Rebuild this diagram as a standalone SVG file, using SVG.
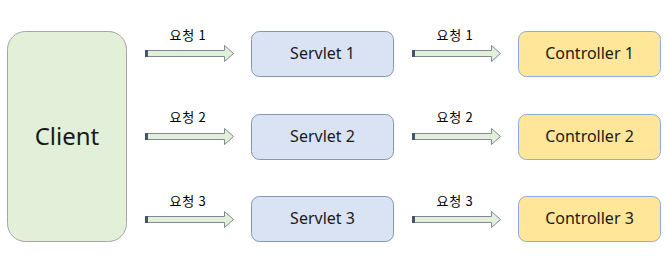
<svg xmlns="http://www.w3.org/2000/svg" width="666" height="272" viewBox="0 0 666 272">
<style>
.client{fill:#e2efd9;stroke:#a6a6a6;stroke-width:1}
.servlet{fill:#dae3f3;stroke:#8497b0;stroke-width:1}
.ctrl{fill:#ffe699;stroke:#8faadc;stroke-width:1}
.t{font-family:"Noto Sans","Noto Sans CJK KR",sans-serif;fill:#1a1a1a;text-anchor:middle}
.lbl{font-family:"Noto Sans CJK KR","Noto Sans",sans-serif;font-size:13px;letter-spacing:0.8px;fill:#000;text-anchor:middle}
.arr{fill:#e2efd9;stroke:#7f8a96;stroke-width:1}
.cap{fill:#44546a}
</style>
<defs>
<g id="arrow">
<path class="arr" d="M0,-3 H79 V-8 L88,0 L79,8 V3 H0 Z"/>
<rect class="cap" x="-0.5" y="-3.5" width="3" height="7"/>
</g>
</defs>
<g id="client">
<rect class="client" x="7.5" y="31.5" width="119" height="210" rx="18"/>
<text class="t" x="67" y="145" font-size="24">Client</text>
</g>
<g id="servlet1">
<rect class="servlet" x="251.5" y="31.5" width="142" height="45" rx="8"/>
<text class="t" x="322.5" y="59" font-size="16">Servlet 1</text>
</g>
<g id="servlet2">
<rect class="servlet" x="251.5" y="114.5" width="142" height="45" rx="8"/>
<text class="t" x="322.5" y="142" font-size="16">Servlet 2</text>
</g>
<g id="servlet3">
<rect class="servlet" x="251.5" y="196.5" width="142" height="45" rx="8"/>
<text class="t" x="322.5" y="224" font-size="16">Servlet 3</text>
</g>
<g id="controller1">
<rect class="ctrl" x="518.5" y="31.5" width="142" height="45" rx="8"/>
<text class="t" x="589.5" y="59" font-size="16">Controller 1</text>
</g>
<g id="controller2">
<rect class="ctrl" x="518.5" y="114.5" width="142" height="45" rx="8"/>
<text class="t" x="589.5" y="142" font-size="16">Controller 2</text>
</g>
<g id="controller3">
<rect class="ctrl" x="518.5" y="196.5" width="142" height="45" rx="8"/>
<text class="t" x="589.5" y="224" font-size="16">Controller 3</text>
</g>
<g id="connectors">
<use href="#arrow" x="145.5" y="53.5"/>
<use href="#arrow" x="145.5" y="136.5"/>
<use href="#arrow" x="145.5" y="219.5"/>
<use href="#arrow" x="412.5" y="53.5"/>
<use href="#arrow" x="412.5" y="136.5"/>
<use href="#arrow" x="412.5" y="219.5"/>
<text class="lbl" x="188" y="40">요청 1</text>
<text class="lbl" x="188" y="122">요청 2</text>
<text class="lbl" x="188" y="206">요청 3</text>
<text class="lbl" x="455" y="40">요청 1</text>
<text class="lbl" x="455" y="122">요청 2</text>
<text class="lbl" x="455" y="206">요청 3</text>
</g>
</svg>
